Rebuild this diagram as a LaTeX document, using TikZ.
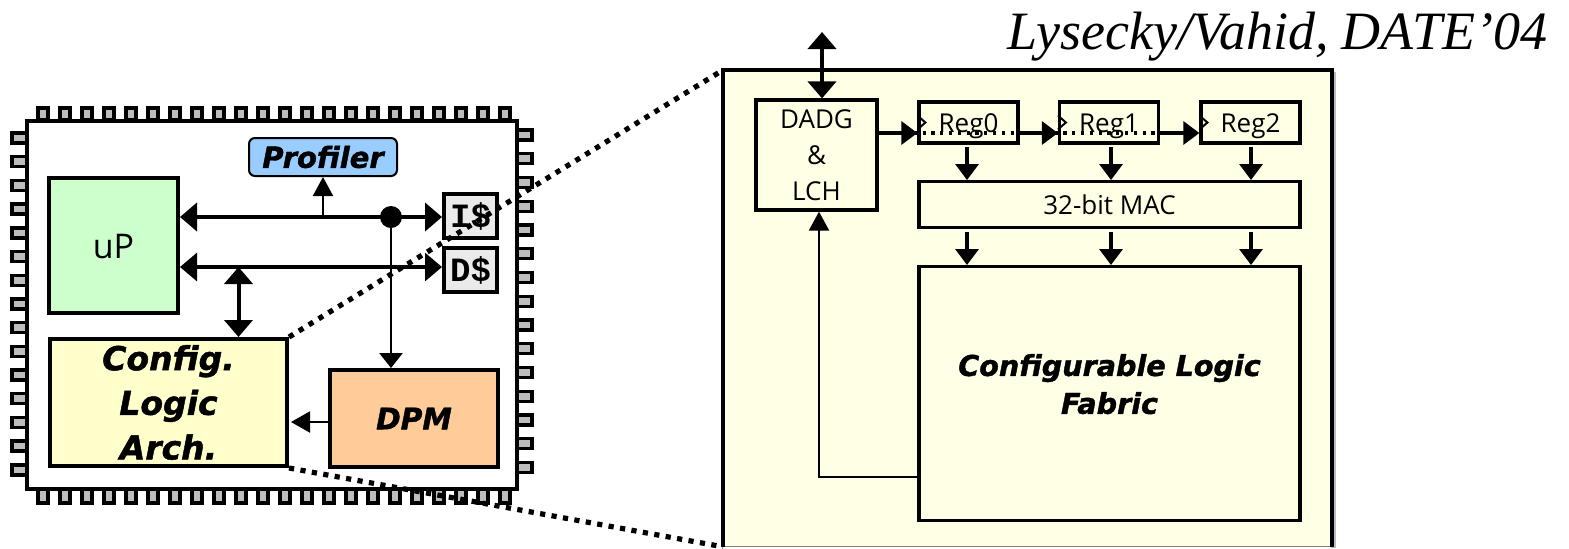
\documentclass[tikz,border=0pt]{standalone}
\usepackage{fontspec}
\usepackage{xcolor}
\setmainfont{Open Sans}
\newfontfamily\boldfont{DejaVu Sans}[BoldItalicFeatures={FakeBold=1.4}]
\newfontfamily\cachefont{Liberation Mono}
\newfontfamily\titlefont{Liberation Serif}
\usetikzlibrary{arrows.meta,calc}
\definecolor{upgreen}{HTML}{CCFFCC}
\definecolor{profblue}{HTML}{99CCFF}
\definecolor{cfgyellow}{HTML}{FFFFCC}
\definecolor{dpmorange}{HTML}{FFCC99}
\definecolor{palefill}{HTML}{FFFFE6}
\definecolor{pingray}{HTML}{BDBDBD}
\definecolor{cachegray}{HTML}{EAEAEA}
\tikzset{
  blockbox/.style={draw,line width=2pt,inner sep=0pt},
  regbox/.style={draw,line width=1.6pt,inner sep=0pt,font=\fontsize{13}{18}\selectfont,align=center},
  boldtext/.style={font=\boldfont\bfseries\itshape\fontsize{#1}{21.7}\selectfont,align=center},
  pinbox/.style={draw,line width=1.7pt,fill=pingray},
  dotline/.style={line width=2.6pt,dash pattern=on 2.6pt off 3.2pt},
  bigbus/.style={line width=2pt,{Triangle[length=8.5pt,width=14pt]}-{Triangle[length=8.5pt,width=14pt]}},
  thinarrow/.style={line width=1pt,-{Triangle[length=9.5pt,width=10pt]}},
  midarrow/.style={line width=1.6pt,-{Triangle[length=8pt,width=11.5pt]}}
}
\begin{document}
\begin{tikzpicture}[x=.5pt,y=-.5pt,>=Latex]
  \useasboundingbox (0,0) rectangle (1569,548);
  \node[anchor=base east,font=\titlefont\itshape\fontsize{27}{27}\selectfont] (cite) at (1554,49) {Lysecky/Vahid, DATE’04};

  \foreach \i in {0,...,21}{
    \draw[pinbox] ({38+22*\i},108) rectangle ++(10,12);
    \draw[pinbox] ({38+22*\i},489) rectangle ++(10,14);
  }
  \foreach \i in {0,...,14}{
    \draw[pinbox] (12,{133+23.7*\i}) rectangle ++(15,10);
    \draw[pinbox] (517,{130+23.75*\i}) rectangle ++(15,10);
  }
  \node[blockbox,fill=white,minimum width=245pt,minimum height=184pt] (chip) at (272,305) {};

  \node[blockbox,fill=upgreen,minimum width=64.5pt,minimum height=67.5pt,font=\fontsize{17}{20}\selectfont,text height=12.5pt,text depth=0pt] (uP) at (113.5,245.5) {uP};
  \node[draw,line width=1pt,rounded corners=3pt,inner sep=0pt,fill=profblue,minimum width=74pt,minimum height=19pt,boldtext=14.5] (prof) at (323,157) {\raisebox{-1.5pt}{Profiler}};
  \node[blockbox,fill=cachegray,minimum width=26.5pt,minimum height=22pt,font=\cachefont\bfseries\fontsize{17}{20}\selectfont] (icache) at (470.5,216) {I\$};
  \node[blockbox,fill=cachegray,minimum width=26.5pt,minimum height=22pt,font=\cachefont\bfseries\fontsize{17}{20}\selectfont] (dcache) at (470.5,270) {D\$};
  \node[blockbox,fill=cfgyellow,minimum width=118.5pt,minimum height=63.5pt,boldtext=16.5] (cfg) at (168.5,402.5) {\raisebox{-3.6pt}{\shortstack{Config.\\[3.2pt]Logic\\[3.2pt]Arch.}}};
  \node[blockbox,fill=dpmorange,minimum width=84pt,minimum height=48.5pt,boldtext=14.8] (dpm) at (414,418.5) {\raisebox{-.6pt}{DPM}};

  \coordinate (ibus) at (391,217);
  \coordinate (dbus) at (238.5,267);
  \coordinate (topend) at (822,32);
  \coordinate (clk) at (0,133);
  \coordinate (loop) at (819,477);

  \draw[bigbus] (uP.east |- ibus) -- (icache.west |- ibus);
  \draw[bigbus,line width=1.6pt] (uP.east |- dbus) -- (dcache.west |- dbus);
  \draw[bigbus] (dbus) -- (dbus |- cfg.north);
  \draw[thinarrow] (prof.south |- ibus) -- (prof.south);
  \fill (ibus) circle (5.5pt);
  \draw[line width=1.4pt,-{Triangle[length=7.5pt,width=11.5pt]}] (ibus) -- (ibus |- dpm.north);
  \draw[line width=1pt,-{Triangle[length=9.5pt,width=10.5pt]}] (dpm.west |- 0,422) -- ($(cfg.east |- 0,422)+(2,0)$);

  \fill[pingray] (1331,72) rectangle (1336,548);
  \node[anchor=north west,fill=palefill,inner sep=0pt,minimum width=304pt,minimum height=238pt] (clabox) at (723,70) {};
  \draw[line width=.5pt,black!50!palefill] (clabox.south west) -- (clabox.south east);
  \draw[line width=2pt] (clabox.south west) -- (clabox.north west) -- (clabox.north east) -- (clabox.south east);

  \draw[dotline] (cfg.north east) -- (clabox.north west);
  \draw[dotline] (cfg.south east) -- (clabox.south west);

  \node[regbox,minimum width=60.5pt,minimum height=55pt] (dadg) at (816.5,155) {\raisebox{-1.4pt}{\shortstack{DADG\\[5.5pt]\&\\[5.5pt]LCH}}};
  \node[regbox,minimum width=49.5pt,minimum height=20.5pt,text height=9.5pt,text depth=0pt] (reg0) at (968.5,122.5) {Reg0};
  \node[regbox,minimum width=49.5pt,minimum height=20.5pt,text height=9.5pt,text depth=0pt] (reg1) at (1109,122.5) {Reg1};
  \node[regbox,minimum width=49.5pt,minimum height=20.5pt,text height=9.5pt,text depth=0pt] (reg2) at (1250.5,122.5) {Reg2};
  \node[regbox,minimum width=190.5pt,minimum height=23pt,text height=9.5pt,text depth=0pt] (mac) at (1109.5,204.5) {32-bit MAC};
  \node[regbox,minimum width=190.5pt,minimum height=127pt,boldtext=14.3] (fabric) at (1109.5,393.5) {\raisebox{9.5pt}{\shortstack{Configurable Logic\\[2pt]Fabric}}};

  \foreach \r in {reg0,reg1,reg2}{
    \draw[line width=1pt] ([yshift=3.5pt]\r.west) -- ([xshift=4pt]\r.west) -- ([yshift=-3.5pt]\r.west);
  }
  \draw[bigbus] (topend) -- (topend |- dadg.north);
  \draw[midarrow] (dadg.east |- clk) -- (reg0.west |- clk);
  \draw[midarrow] (reg0.east |- clk) -- (reg1.west |- clk);
  \draw[midarrow] (reg1.east |- clk) -- (reg2.west |- clk);
  \draw[line width=1.6pt,dash pattern=on 1.6pt off 2.8pt] (dadg.east |- clk) -- (reg1.east |- clk);

  \foreach \x in {967,1111,1251}{
    \draw[midarrow] (\x,147) -- (\x,180);
    \draw[midarrow] (\x,232) -- (\x,265);
  }
  \draw[line width=1pt,-{Triangle[length=9.5pt,width=10pt]}] (fabric.west |- loop) -- (loop) -- (loop |- dadg.south);
\end{tikzpicture}
\end{document}
